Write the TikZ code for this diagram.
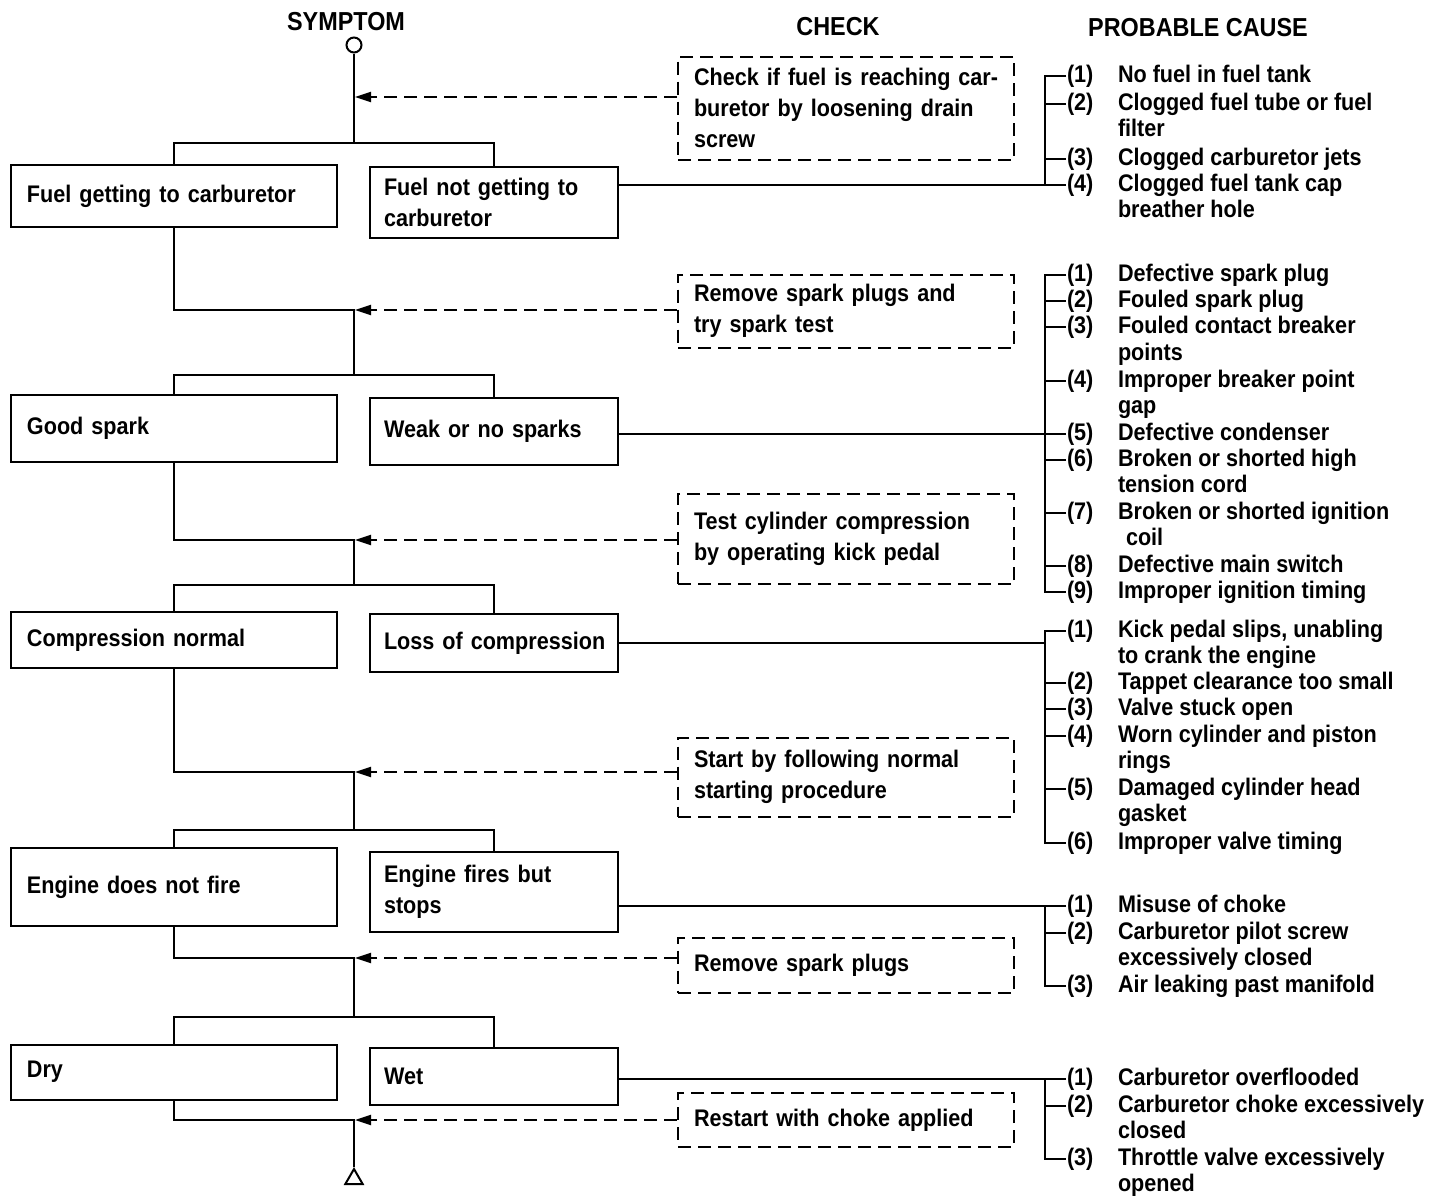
\documentclass[tikz,border=0pt]{standalone}
\RequirePackage{fontspec}
\RequirePackage{tikz}
\usetikzlibrary{arrows.meta}
\usetikzlibrary{shapes.geometric}
\setmainfont{Liberation Sans}[FakeStretch=0.9]

\begin{document}
\begin{tikzpicture}[x=1pt,y=-1pt,line width=2pt,
    every node/.style={font=\bfseries\fontsize{24}{31}\selectfont},
    head/.style={font=\bfseries\fontsize{26}{30}\selectfont},
    sympbox/.style={draw,align=left,minimum height=#1},
    leftbox/.style={sympbox=#1,inner xsep=16pt,text width=294pt},
    rightbox/.style={sympbox=#1,inner xsep=14pt,text width=220pt},
    checkbox/.style={draw,dash pattern=on 13pt off 7pt,align=left,inner xsep=16pt,text width=304pt,minimum height=#1},
    checkarrow/.style={dash pattern=on 13pt off 7pt,-{Triangle[length=16pt,width=10pt]},shorten >=1pt},
    causenum/.style={anchor=base west,inner sep=0pt},
    causetext/.style={anchor=base west,inner sep=0pt},
    startmark/.style={draw,circle,minimum size=15pt,inner sep=0pt},
    endmark/.style={draw,regular polygon,regular polygon sides=3,minimum size=20pt,inner sep=0pt}]
                    \useasboundingbox (0,0) rectangle (1440,1197);
                    \node[head] (hsym) at (346,22) {SYMPTOM};
                    \node[head] (hchk) at (838,27) {CHECK};
                    \node[head] (hcau) at (1198,28) {PROBABLE CAUSE};
                    \node[startmark] (sym) at (354,45) {};
                    \node[endmark] (fin) at (354,1179) {};
                    \coordinate (a1) at (354,97);   \coordinate (t1) at (354,143);
                    \coordinate (a2) at (354,310);  \coordinate (t2) at (354,375);
                    \coordinate (a3) at (354,540);  \coordinate (t3) at (354,585);
                    \coordinate (a4) at (354,772);  \coordinate (t4) at (354,830);
                    \coordinate (a5) at (354,958);  \coordinate (t5) at (354,1017);
                    \coordinate (a6) at (354,1120);
                    \coordinate (g3b) at (1045,629);
                    % symptoms
                    \node[leftbox=62] (b1) at (174,196) {Fuel getting to carburetor};
                    \node[rightbox=71] (b2) at (494,202) {Fuel not getting to\\carburetor};
                    \node[leftbox=67] (b3) at (174,428) {Good spark};
                    \node[rightbox=67] (b4) at (494,431) {Weak or no sparks};
                    \node[leftbox=56] (b5) at (174,640) {Compression normal};
                    \node[rightbox=58] (b6) at (494,643) {\mbox{Loss of compression}};
                    \node[leftbox=78] (b7) at (174,887) {Engine does not fire};
                    \node[rightbox=80] (b8) at (494,892) {Engine fires but\\stops};
                    \node[leftbox=55] (b9) at (174,1072) {Dry};
                    \node[rightbox=57] (b10) at (494,1076) {Wet};
                    % checks
                    \node[checkbox=103] (c1) at (846,108) {\mbox{Check if fuel is reaching car-}\\buretor by loosening drain\\screw};
                    \node[checkbox=73] (c2) at (846,311) {Remove spark plugs and\\try spark test};
                    \node[checkbox=90] (c3) at (846,539) {Test cylinder compression\\by operating kick pedal};
                    \node[checkbox=79] (c4) at (846,777) {Start by following normal\\starting procedure};
                    \node[checkbox=55] (c5) at (846,965) {Remove spark plugs};
                    \node[checkbox=54] (c6) at (846,1120) {Restart with choke applied};
                    % flow
                    \draw (sym) -- (t1);
                    \draw (b1.north) |- (t1) -| (b2.north);
                    \draw (b1.south) |- (a2) -- (t2);
                    \draw (b3.north) |- (t2) -| (b4.north);
                    \draw (b3.south) |- (a3) -- (t3);
                    \draw (b5.north) |- (t3) -| (b6.north);
                    \draw (b5.south) |- (a4) -- (t4);
                    \draw (b7.north) |- (t4) -| (b8.north);
                    \draw (b7.south) |- (a5) -- (t5);
                    \draw (b9.north) |- (t5) -| (b10.north);
                    \draw (b9.south) |- (a6) -- (fin.corner 1);
                    \draw[checkarrow] (a1 -| c1.west) -- (a1);
                    \draw[checkarrow] (a2 -| c2.west) -- (a2);
                    \draw[checkarrow] (a3 -| c3.west) -- (a3);
                    \draw[checkarrow] (a4 -| c4.west) -- (a4);
                    \draw[checkarrow] (a5 -| c5.west) -- (a5);
                    \draw[checkarrow] (a6 -| c6.west) -- (a6);
                    % causes
                    \foreach \y/\n/\t in {74/1/No fuel in fuel tank,102/2/Clogged fuel tube or fuel,157/3/Clogged carburetor jets,183/4/Clogged fuel tank cap}{
                        \node[causenum] (g1n\n) at (1066,\y+8) {(\n)};
                        \node[causetext] (g1t\n) at (1117,\y+8) {\t};
                    }
                    \foreach \y/\t in {128/filter,209/breather hole}
                        \node[causetext] (g1c\y) at (1117,\y+8) {\t};
                    \draw (g1n1.west) -- ++(-21,0) |- (g1n4.west);
                    \foreach \n in {2,3}
                        \draw (g1n\n.west) -- ++(-21,0);
                    \draw (b2.east |- g1n4.west) -- (g1n4.west);
                    \foreach \y/\n/\t in {273/1/Defective spark plug,299/2/Fouled spark plug,325/3/Fouled contact breaker,379/4/Improper breaker point,432/5/Defective condenser,458/6/Broken or shorted high,511/7/Broken or shorted ignition,564/8/Defective main switch,590/9/Improper ignition timing}{
                        \node[causenum] (g2n\n) at (1066,\y+8) {(\n)};
                        \node[causetext] (g2t\n) at (1117,\y+8) {\t};
                    }
                    \foreach \y/\x/\t in {352/1117/points,405/1117/gap,484/1117/tension cord,537/1125/coil}
                        \node[causetext] (g2c\y) at (\x,\y+8) {\t};
                    \draw (g2n1.west) -- ++(-21,0) |- (g2n9.west);
                    \foreach \n in {2,...,8}
                        \draw (g2n\n.west) -- ++(-21,0);
                    \draw (b4.east |- g2n5.west) -- (g2n5.west);
                    \foreach \y/\n/\t in {629/1/{Kick pedal slips, unabling},681/2/Tappet clearance too small,707/3/Valve stuck open,734/4/Worn cylinder and piston,787/5/Damaged cylinder head,841/6/Improper valve timing}{
                        \node[causenum] (g3n\n) at (1066,\y+8) {(\n)};
                        \node[causetext] (g3t\n) at (1117,\y+8) {\t};
                    }
                    \foreach \y/\t in {655/to crank the engine,760/rings,813/gasket}
                        \node[causetext] (g3c\y) at (1117,\y+8) {\t};
                    \draw (g3n1.west) -- ++(-21,0) |- (g3n6.west);
                    \foreach \n in {2,...,5}
                        \draw (g3n\n.west) -- ++(-21,0);
                    \draw (b6.east) -- (b6.east -| g3b);
                    \foreach \y/\n/\t in {904/1/Misuse of choke,931/2/Carburetor pilot screw,984/3/Air leaking past manifold}{
                        \node[causenum] (g4n\n) at (1066,\y+8) {(\n)};
                        \node[causetext] (g4t\n) at (1117,\y+8) {\t};
                    }
                    \node[causetext] (g4c957) at (1117,965) {excessively closed};
                    \draw (b8.east |- g4n1.west) -- (g4n1.west);
                    \draw (g4n1.west) -- ++(-21,0) |- (g4n3.west);
                    \draw (g4n2.west) -- ++(-21,0);
                    \foreach \y/\n/\t in {1077/1/Carburetor overflooded,1104/2/Carburetor choke excessively,1157/3/Throttle valve excessively}{
                        \node[causenum] (g5n\n) at (1066,\y+8) {(\n)};
                        \node[causetext] (g5t\n) at (1117,\y+8) {\t};
                    }
                    \foreach \y/\t in {1130/closed,1183/opened}
                        \node[causetext] (g5c\y) at (1117,\y+8) {\t};
                    \draw (b10.east |- g5n1.west) -- (g5n1.west);
                    \draw (g5n1.west) -- ++(-21,0) |- (g5n3.west);
                    \draw (g5n2.west) -- ++(-21,0);
                \end{tikzpicture}
\end{document}
